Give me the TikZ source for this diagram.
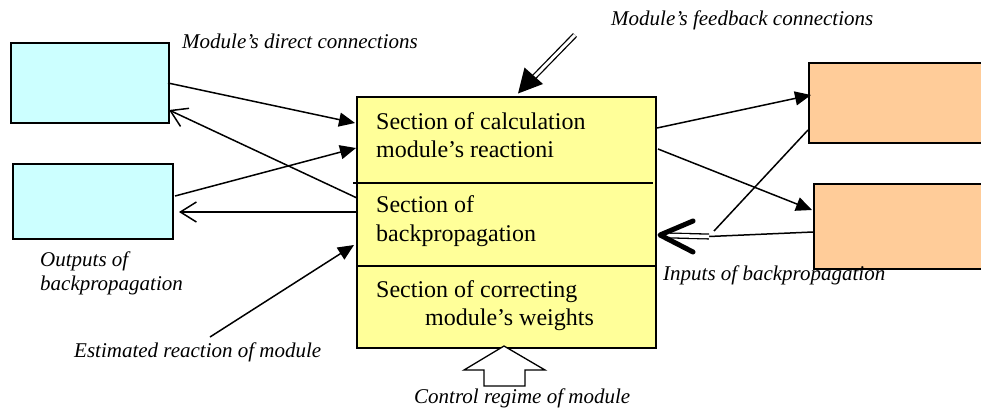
\documentclass[tikz,border=0pt]{standalone}
\usepackage{fontspec}
\setmainfont{Liberation Serif}
\usetikzlibrary{arrows.meta,calc}
\definecolor{cyanfill}{HTML}{CCFFFF}
\definecolor{yellowfill}{HTML}{FFFF99}
\definecolor{orangefill}{HTML}{FFCC99}
\begin{document}
\begin{tikzpicture}[x=1pt,y=-1pt,
  box/.style={draw, line width=1.5pt, anchor=north west, inner sep=0},
  conn/.style={line width=1.5pt},
  fillarrow/.style={conn, -{Triangle[length=16pt,width=14pt]}},
  openarrow/.style={conn, -{Straight Barb[length=16pt,width=20pt,line width=1.5pt]}},
  lbl/.style={font=\fontsize{21}{24}\selectfont\itshape, anchor=base west, inner sep=0},
  sec/.style={font=\fontsize{24}{28}\selectfont, anchor=base west, inner sep=0}]
\useasboundingbox (0,0) rectangle (981,410);

% boxes
\node[box, fill=cyanfill, minimum width=158pt, minimum height=80pt] (c1) at (10,42) {};
\node[box, fill=cyanfill, minimum width=160pt, minimum height=75pt] (c2) at (12,163) {};
\node[box, fill=yellowfill, minimum width=299pt, minimum height=251pt] (ym) at (356,96) {};
\node[box, fill=orangefill, minimum width=190pt, minimum height=80pt] (o1) at (808,62) {};
\node[box, fill=orangefill, minimum width=190pt, minimum height=85pt] (o2) at (813,183) {};

% dividers in the module box
\coordinate (d1a) at (353,183); \coordinate (d1b) at (653,183);
\coordinate (d2a) at (357,266); \coordinate (d2b) at (655,266);
\draw[line width=1.3pt] (d1a) -- (d1b);
\draw[line width=1.3pt] (d2a) -- (d2b);

% section texts
\node[sec] (s1a) at (376,129) {Section of calculation};
\node[sec] (s1b) at (376,157) {module’s reactioni};
\node[sec] (s2a) at (376,212) {Section of};
\node[sec] (s2b) at (376,241) {backpropagation};
\node[sec] (s3a) at (376,297) {Section of correcting};
\node[sec] (s3b) at (425,325) {module’s weights};

% left connectors
\coordinate (c1out) at (168,83);  \coordinate (yin1) at (355,123);
\coordinate (ybp1) at (357,198);  \coordinate (c1in) at (169,110);
\coordinate (c2out) at (175,196); \coordinate (yin2) at (356,148);
\coordinate (ybp2) at (358,212);  \coordinate (c2in) at (179,212);
\coordinate (esttail) at (210,337); \coordinate (yest) at (354,245);
\draw[fillarrow] (c1out) -- (yin1);
\draw[openarrow] (ybp1) -- (c1in);
\draw[fillarrow] (c2out) -- (yin2);
\draw[openarrow] (ybp2) -- (c2in);
\draw[fillarrow] (esttail) -- (yest);

% right connectors
\coordinate (yout1) at (657,128); \coordinate (o1in) at (811,95);
\coordinate (yout2) at (658,149); \coordinate (o2in) at (812,210);
\draw[fillarrow] (yout1) -- (o1in);
\draw[fillarrow] (yout2) -- (o2in);
\coordinate (o1bp) at (808,130); \coordinate (o2bp) at (813,232);
\coordinate (jn1) at (714,231); \coordinate (jn2) at (709,236.5);
\coordinate (shaftend) at (670,235.5);
\coordinate (chtip) at (660,235);
\coordinate (chup) at (693,221); \coordinate (chdn) at (693,252);
\draw[conn] (o1bp) -- (jn1);
\draw[conn] (o2bp) -- (jn2);
\draw[double, double distance=3.5pt, line width=1.3pt] (jn2) -- (shaftend);
\draw[line width=5pt, line cap=round, line join=round] (chup) -- (chtip) -- (chdn);

% feedback double arrow
\coordinate (fbtail) at (575,35); \coordinate (fbtip) at (518,93.5);
\coordinate (fbl) at (524.5,67.5); \coordinate (fbr) at (543,84);
\draw[double, double distance=3pt, line width=1.3pt] (fbtail) -- ($(fbtip)!20pt!(fbtail)$);
\fill (fbtip) -- (fbl) -- (fbr) -- cycle;

% control regime hollow arrow
\draw[line width=1.3pt, fill=white] (504,346) -- (545,370) -- (525,370) -- (525,386)
  -- (484,386) -- (484,370) -- (464,370) -- cycle;

% labels
\node[lbl] (t1) at (182,48) {Module’s direct connections};
\node[lbl] (t2) at (611,25) {Module’s feedback connections};
\node[lbl] (t3) at (40,266) {Outputs of};
\node[lbl] (t4) at (40,290) {backpropagation};
\node[lbl] (t5) at (74,357) {Estimated reaction of module};
\node[lbl] (t6) at (663,280) {Inputs of backpropagation};
\node[lbl] (t7) at (414,403) {Control regime of module};
\end{tikzpicture}
\end{document}
